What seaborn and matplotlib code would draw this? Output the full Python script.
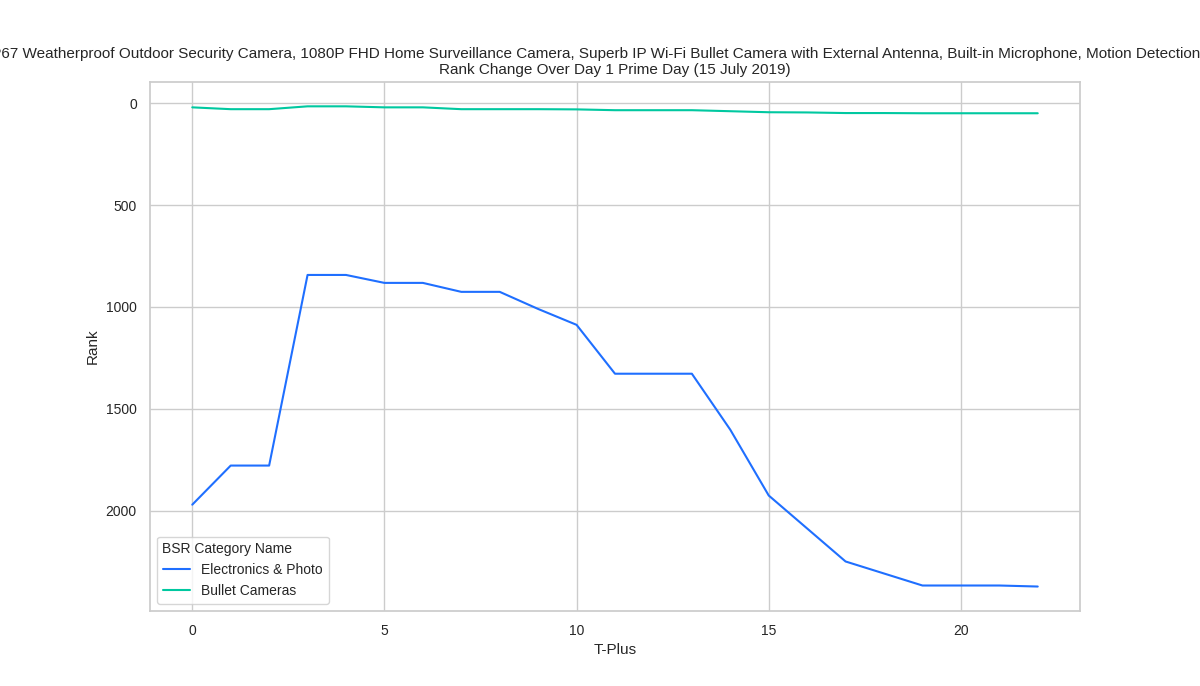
import matplotlib
matplotlib.use("Agg")
import matplotlib.pyplot as plt
import seaborn as sns
import pandas as pd

t_plus = list(range(23))
electronics = [1971, 1779, 1779, 843, 843, 882, 882, 926, 926, 1010, 1088, 1328, 1328, 1328,
               1603, 1926, 2088, 2250, 2309, 2368, 2368, 2368, 2373]
bullet = [20, 29, 29, 15, 15, 20, 20, 29, 29, 29, 30, 34, 34, 34, 39, 44, 45, 48, 48, 49, 49, 49, 49]
categories = ["Electronics & Photo", "Bullet Cameras"]
colors = ["#1f6fff", "#00c8a0"]

df = pd.DataFrame({
    "T-Plus": t_plus * 2,
    "Rank": electronics + bullet,
    "BSR Category Name": [categories[0]] * 23 + [categories[1]] * 23,
})

sns.set_theme(style="whitegrid")
plt.rcParams["font.family"] = ["Liberation Sans", "DejaVu Sans"]
fig, ax = plt.subplots(figsize=(12, 6.86), dpi=100)
sns.lineplot(data=df, x="T-Plus", y="Rank", hue="BSR Category Name",
             palette=colors, ax=ax)
ax.invert_yaxis()
ax.set_xticks([0, 5, 10, 15, 20])
ax.set_yticks([0, 500, 1000, 1500, 2000])
ax.tick_params(labelsize=10)
ax.set_xlabel("T-Plus", fontsize=11)
ax.set_ylabel("Rank", fontsize=11)
ax.set_title("Wansview IP67 Weatherproof Outdoor Security Camera, 1080P FHD Home Surveillance Camera, "
             "Superb IP Wi-Fi Bullet Camera with External Antenna, Built-in Microphone, Motion Detection and Night Vision\n"
             "Rank Change Over Day 1 Prime Day (15 July 2019)", fontsize=11)
leg = ax.legend(title="BSR Category Name", loc="lower left", fontsize=10, title_fontsize=10)
leg._legend_box.align = "left"
fig.savefig("out.png", dpi=100)
